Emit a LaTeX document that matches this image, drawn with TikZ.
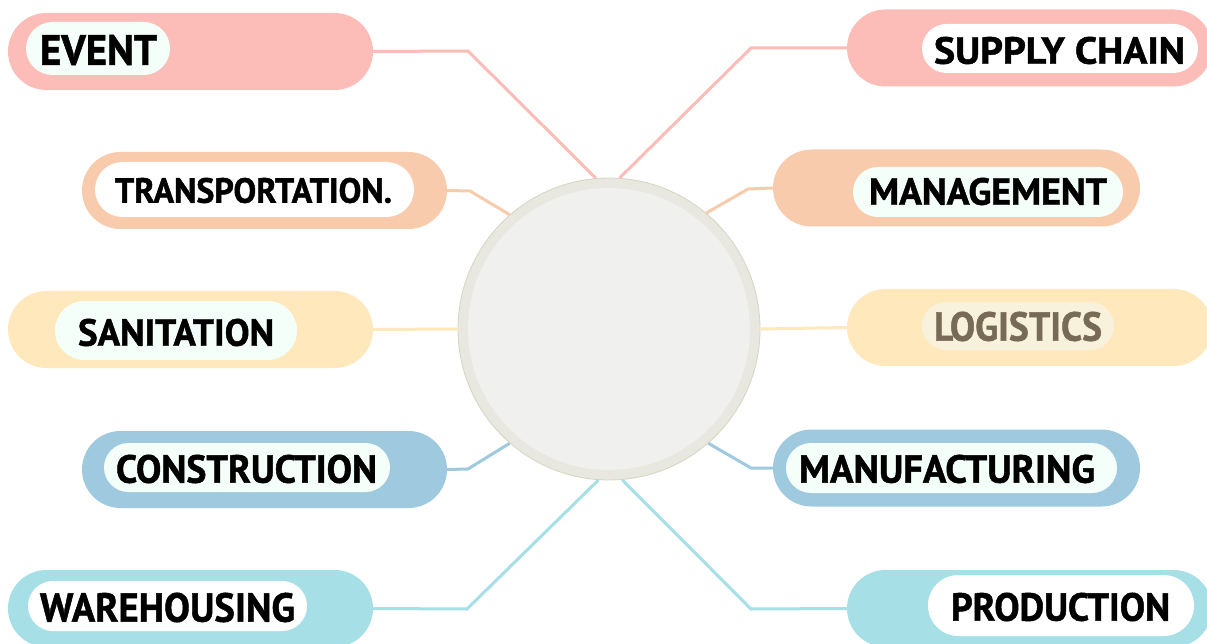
\documentclass[tikz,border=0pt]{standalone}
\usepackage{fontspec}
\setmainfont{PT Sans}
\newfontfamily\heavyfont{PT Sans}[BoldFeatures={FakeBold=1.2}]
\usepackage{graphicx}
\definecolor{pinkc}{HTML}{FCBCB8}
\definecolor{peachc}{HTML}{F8CBAD}
\definecolor{yelc}{HTML}{FFE8BC}
\definecolor{bluec}{HTML}{9FC9DF}
\definecolor{cyanc}{HTML}{A6DFE6}
\definecolor{mintc}{HTML}{F3FFF8}
\definecolor{creamc}{HTML}{F8F2DC}
\definecolor{ringc}{HTML}{E8E8E1}
\definecolor{diskc}{HTML}{F0F0EF}
\definecolor{rimc}{HTML}{D5D5BF}
\definecolor{logc}{HTML}{776B55}
\newcommand{\pilltext}[3]{\resizebox{#1pt}{#2pt}{\heavyfont\bfseries #3}}
\tikzset{
  outerpill/.style={draw=none, inner sep=0pt, rounded corners=38.5pt, minimum height=77pt},
  innerpill/.style={draw=none, inner sep=0pt},
  lbl/.style={inner sep=0pt, text=black},
  conn/.style={line width=3pt},
}
\begin{document}
\begin{tikzpicture}[x=1pt,y=-1pt]
\useasboundingbox (0,0) rectangle (1207,644);
\fill[white] (0,0) rectangle (1207,644);

% central circle
\node[circle, fill=ringc, draw=rimc, line width=0.8pt, minimum size=302pt, inner sep=0pt] (c) at (609,329) {};
% outer pills
\node[outerpill, fill=pinkc, minimum width=365pt] (event) at (190.5,51.5) {};
\node[outerpill, fill=peachc, minimum width=365pt] (trans) at (264.5,190.5) {};
\node[outerpill, fill=yelc, minimum width=365pt] (sanit) at (190.5,329.5) {};
\node[outerpill, fill=bluec, minimum width=365pt] (constr) at (264.5,469.5) {};
\node[outerpill, fill=cyanc, minimum width=365pt] (wareh) at (190.5,608.5) {};
\node[outerpill, fill=pinkc, minimum width=365pt] (supply) at (1029.5,48) {};
\node[outerpill, fill=peachc, minimum width=367pt] (manag) at (956.5,188) {};
\node[outerpill, fill=yelc, minimum width=365pt] (logis) at (1029.5,327.5) {};
\node[outerpill, fill=bluec, minimum width=367pt] (manuf) at (956.5,468) {};
\node[outerpill, fill=cyanc, minimum width=365pt] (produ) at (1029.5,608.5) {};

% bend points
\coordinate (bevent) at (468,51);
\coordinate (btrans) at (470,191);
\coordinate (bconstr) at (468,469);
\coordinate (bwareh) at (467,609);
\coordinate (bsupply) at (751,48);
\coordinate (bmanag) at (748,189);
\coordinate (bmanuf) at (751,468);
\coordinate (bprodu) at (751,609);

% connectors
\draw[conn, pinkc] (event.east) -- (bevent) -- (c.95);
\draw[conn, peachc] (trans.east) -- (btrans) -- (c.131);
\draw[conn, yelc] (sanit.east) -- (c.180);
\draw[conn, bluec] (constr.east) -- (bconstr) -- (c.229);
\draw[conn, cyanc] (wareh.east) -- (bwareh) -- (c.266);
\draw[conn, pinkc] (supply.west) -- (bsupply) -- (c.86);
\draw[conn, peachc] (manag.west) -- (bmanag) -- (c.50);
\draw[conn, yelc] (logis.west) -- (c.0);
\draw[conn, bluec] (manuf.west) -- (bmanuf) -- (c.311);
\draw[conn, cyanc] (produ.west) -- (bprodu) -- (c.275);

% inner disk
\node[circle, fill=diskc, minimum size=282pt, inner sep=0pt] (disk) at (c.center) {};

% inner pills
\node[innerpill, fill=mintc, minimum width=144pt, minimum height=53pt, rounded corners=26.5pt] (ievent) at (98,48.5) {};
\node[innerpill, fill=white, minimum width=319pt, minimum height=55pt, rounded corners=27.5pt] (itrans) at (254.5,189.5) {};
\node[innerpill, fill=mintc, minimum width=242pt, minimum height=59pt, rounded corners=29.5pt] (isanit) at (176,330.5) {};
\node[innerpill, fill=mintc, minimum width=286pt, minimum height=49pt, rounded corners=24.5pt] (iconstr) at (247,467.5) {};
\node[innerpill, fill=white, minimum width=279pt, minimum height=50pt, rounded corners=25pt] (iwareh) at (167.5,606) {};
\node[innerpill, fill=white, minimum width=276pt, minimum height=49pt, rounded corners=24.5pt] (isupply) at (1060,48.5) {};
\node[innerpill, fill=mintc, minimum width=270pt, minimum height=50pt, rounded corners=25pt] (imanag) at (988,192) {};
\node[innerpill, fill=creamc, minimum width=192pt, minimum height=48pt, rounded corners=24pt] (ilogis) at (1018,326) {};
\node[innerpill, fill=mintc, minimum width=331pt, minimum height=50pt, rounded corners=25pt] (imanuf) at (951.5,468) {};
\node[innerpill, fill=white, minimum width=266pt, minimum height=61pt, rounded corners=30.5pt] (iprodu) at (1061,605.5) {};

% labels
\node[lbl] (tevent) at (98.5,50) {\pilltext{117}{30}{EVENT}};
\node[lbl] (ttrans) at (253.5,190.5) {\pilltext{277}{25}{TRANSPORTATION.}};
\node[lbl] (tsanit) at (176,332.5) {\pilltext{196}{27}{SANITATION}};
\node[lbl] (tconstr) at (246.5,469) {\pilltext{261}{28}{CONSTRUCTION}};
\node[lbl] (twareh) at (167.5,607.5) {\pilltext{255}{29}{WAREHOUSING}};
\node[lbl] (tsupply) at (1059.5,50.5) {\pilltext{251}{27}{SUPPLY CHAIN}};
\node[lbl] (tmanag) at (988,191.5) {\pilltext{238}{27}{MANAGEMENT}};
\node[lbl, text=logc] (tlogis) at (1018,326.5) {\pilltext{168}{29}{LOGISTICS}};
\node[lbl] (tmanuf) at (947,469) {\pilltext{296}{28}{MANUFACTURING}};
\node[lbl] (tprodu) at (1060.5,607) {\pilltext{219}{28}{PRODUCTION}};
\end{tikzpicture}
\end{document}
